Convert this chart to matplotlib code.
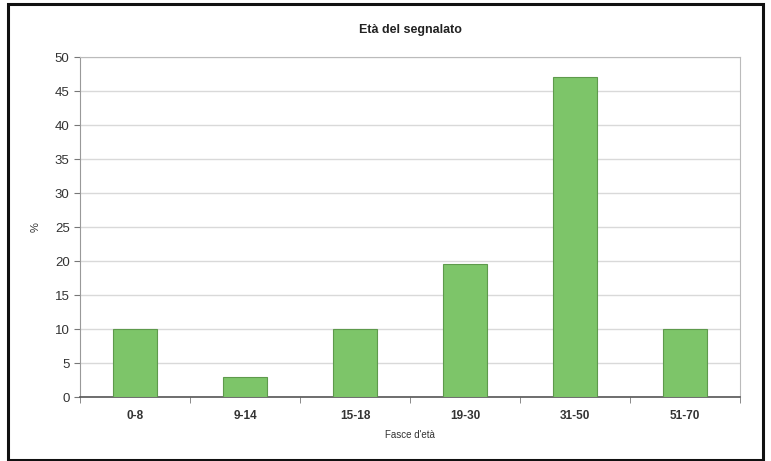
import matplotlib.pyplot as plt
import numpy as np
from matplotlib.patches import Rectangle

plt.rcParams['font.family'] = ['Liberation Sans', 'DejaVu Sans']

categories = ["0-8", "9-14", "15-18", "19-30", "31-50", "51-70"]
values = [10, 3, 10, 19.6, 47, 10]

fig = plt.figure(figsize=(7.71, 4.61), dpi=100)
ax = fig.add_axes([80/771, 64/461, 660/771, 340/461])

x = np.arange(len(categories))
ax.bar(x, values, width=0.4, color="#7dc569", edgecolor="#5e9a4c", linewidth=0.8, zorder=3)

ax.set_xlim(-0.5, len(categories) - 0.5)
ax.set_ylim(0, 50)
ax.set_yticks(np.arange(0, 51, 5))
ax.yaxis.grid(True, color="#d9d9d9", linewidth=1, zorder=0)
ax.set_xticks(x)
ax.set_xticklabels(categories, fontweight="bold", fontsize=8.5, color="#333333")
ax.set_xticks(np.arange(-0.5, len(categories)), minor=True)
ax.tick_params(axis="x", which="major", length=0, pad=9)
ax.tick_params(axis="x", which="minor", length=4, color="#777777")
ax.tick_params(axis="y", length=4, color="#777777", labelsize=9.5, labelcolor="#333333")

for s in ["top", "right"]:
    ax.spines[s].set_color("#bbbbbb")
ax.spines["left"].set_color("#999999")
ax.spines["bottom"].set_color("#555555")
ax.spines["bottom"].set_linewidth(1.2)

ax.set_xlabel("Fasce d'età", fontsize=7, color="#333333", labelpad=6)
ax.set_ylabel("%", fontsize=8, color="#333333", labelpad=10)
fig.text(410/771, 1 - 30/461, "Età del segnalato", ha="center", va="center",
         fontsize=9, fontweight="bold", color="#222222")

fig.patches.append(Rectangle((8/771, 1/461), 755/771, 456/461, transform=fig.transFigure,
                             fill=False, edgecolor="#111111", linewidth=2.2))

fig.savefig("out.png", dpi=100)
